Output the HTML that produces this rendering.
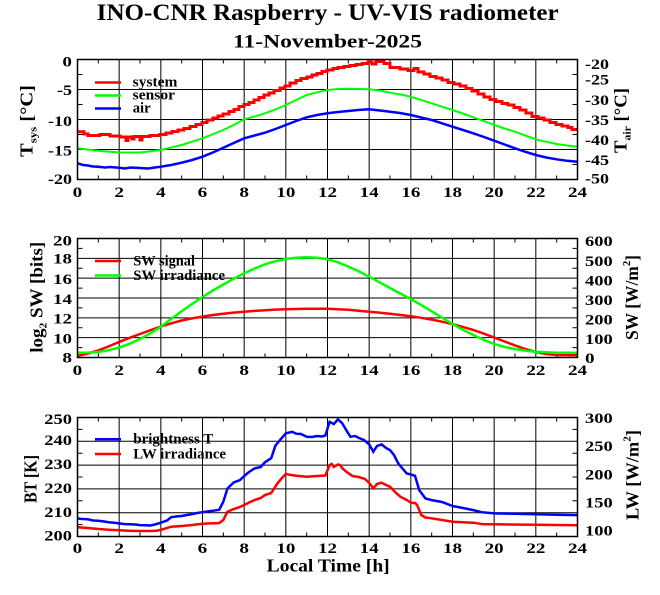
<!DOCTYPE html>
<html><head><meta charset="utf-8"><style>
html,body{margin:0;padding:0;background:#fff;}
svg{display:block;}
text{font-family:"Liberation Serif","DejaVu Serif",serif;font-weight:bold;fill:#000;}
</style></head><body>
<svg width="660" height="595" viewBox="0 0 660 595" xmlns="http://www.w3.org/2000/svg">
<rect width="660" height="595" fill="#fff"/>

<!-- Titles -->
<text x="96.7" y="20" font-size="23" textLength="462" lengthAdjust="spacingAndGlyphs">INO-CNR Raspberry - UV-VIS radiometer</text>
<text x="233" y="47.7" font-size="19" textLength="189" lengthAdjust="spacingAndGlyphs">11-November-2025</text>

<!-- ================= PLOT 1 ================= -->
<g stroke="#000" stroke-width="1" fill="none">
  <path d="M119.17,59.5V179.5M160.83,59.5V179.5M202.5,59.5V179.5M244.17,59.5V179.5M285.83,59.5V179.5M327.5,59.5V179.5M369.17,59.5V179.5M410.83,59.5V179.5M452.5,59.5V179.5M494.17,59.5V179.5M535.83,59.5V179.5"/>
  <path d="M77.5,89.5H577.5M77.5,119.5H577.5M77.5,149.5H577.5"/>
  <path d="M98.33,59.5v4M140,59.5v4M181.67,59.5v4M223.33,59.5v4M265,59.5v4M306.67,59.5v4M348.33,59.5v4M390,59.5v4M431.67,59.5v4M473.33,59.5v4M515,59.5v4M556.67,59.5v4
           M98.33,179.5v-4M140,179.5v-4M181.67,179.5v-4M223.33,179.5v-4M265,179.5v-4M306.67,179.5v-4M348.33,179.5v-4M390,179.5v-4M431.67,179.5v-4M473.33,179.5v-4M515,179.5v-4M556.67,179.5v-4"/>
  <path d="M77.5,74.5h5M77.5,104.5h5M77.5,134.5h5M77.5,164.5h5M577.5,74.5h-5M577.5,104.5h-5M577.5,134.5h-5M577.5,164.5h-5"/>
</g>
<!-- curves plot 1 -->
<path fill="none" stroke="#ff0000" stroke-width="3" d="M77.5,131.7 H84 V134 H88 V135.5 H100 V134.5 H110 V136 H120 V137 H126 V140.5 H128 V137 H132 V139 H134 V136.5 H140 V140 H142 V136.5 H150 V135.5 H160 V134.5 H166 V133 H172 V131.5 H178 V130 H184 V128.5 H190 V126.5 H196 V124.5 H202 V122.5 H207 V120 H213 V118 H218 V116 H223 V114 H229 V111.5 H234 V109.5 H239 V106.5 H244 V104.5 H249 V102.5 H254 V100 H259 V97.5 H264 V95 H269 V93 H274 V90.5 H280 V88 H285 V86 H290 V83 H296 V80.5 H301 V78.5 H307 V77 H312 V75 H317 V73.5 H322 V71.5 H327 V70 H333 V68.5 H338 V67.5 H344 V66.5 H350 V65.5 H356 V64.5 H362 V63.5 H368 V62 H372 V64 H376 V61.5 H384 V63.5 H390 V67.5 H400 V69 H408 V70.5 H414 V68.5 H418 V72 H424 V74 H430 V76.5 H436 V78 H442 V80 H448 V82.5 H454 V84 H460 V86 H466 V88.5 H472 V91 H478 V94 H484 V97 H490 V99.5 H496 V101.5 H502 V103.5 H508 V105 H514 V107.5 H520 V110 H526 V113 H532 V116.5 H538 V118 H544 V120 H550 V122.5 H556 V124.5 H562 V126 H568 V127.5 H572 V129.5 H577.5"/>
<polyline fill="none" stroke="#00ff00" stroke-width="2" points="77.5,148.3 98.3,150.7 119.2,152.5 140,152.5 160.8,150 181.7,145 202.5,138.3 223.3,130 233.7,125 244.2,119.3 254.6,116.5 265,113.3 275.4,109.5 285.8,105 296.2,100 306.7,95 317.1,92.3 327.5,90 337.9,89 348.3,88.7 358.7,89 369.2,89.3 379.6,90.5 390,92.7 400.4,94.5 410.8,96.7 421.2,100 431.7,103.3 442.1,106.7 452.5,110 462.9,113.5 473.3,117.3 483.7,121 494.2,125 504.6,128.5 515,131.7 525.4,135.5 535.8,139.3 546.2,141.8 556.7,144 567.1,145.5 577.5,146.7"/>
<polyline fill="none" stroke="#0000ff" stroke-width="2.5" points="77.5,163.3 83,165 87.9,165.5 93,166.5 98.3,166.7 105,167.5 110,167 119.2,167.7 125,168.5 130,167.5 140,168 148,168.5 155,167.5 160.8,166.7 171.2,165 181.7,162.7 192.1,160 202.5,156.7 212.9,152.5 223.3,147.7 233.7,143 244.2,138.3 254.6,135.5 265,132.7 275.4,129 285.8,125 296.2,121 306.7,117.3 317.1,115 327.5,113.3 338,112 348.3,111 358,110 369.2,109.3 379.6,110.5 390,111.7 400,113 410.8,115 421,117.5 431.7,120 442,123.3 452.5,126.7 463,130 473.3,133.3 484,137 494.2,140.7 504.6,144.5 515,148.3 525.4,151.8 535.8,155 546.2,157.5 556.7,159.3 567,160.8 577.5,161.7"/>
<rect x="77.5" y="59.5" width="500" height="120" fill="none" stroke="#000" stroke-width="1.5"/>
<!-- legend 1 -->
<g stroke-width="2.5">
  <line x1="95" y1="82.5" x2="121" y2="82.5" stroke="#ff0000"/>
  <line x1="95" y1="95.5" x2="121" y2="95.5" stroke="#00ff00"/>
  <line x1="95" y1="108.5" x2="121" y2="108.5" stroke="#0000ff"/>
</g>
<g font-size="15">
  <text x="132.7" y="86.7" textLength="44.7" lengthAdjust="spacingAndGlyphs">system</text>
  <text x="132.7" y="99.5" textLength="42.3" lengthAdjust="spacingAndGlyphs">sensor</text>
  <text x="132.7" y="112.3" textLength="18" lengthAdjust="spacingAndGlyphs">air</text>
</g>
<!-- y ticks left plot 1 -->
<g font-size="15" text-anchor="end">
  <text x="72" y="66.7" textLength="9.6" lengthAdjust="spacingAndGlyphs">0</text>
  <text x="72" y="95" textLength="15" lengthAdjust="spacingAndGlyphs">-5</text>
  <text x="72" y="125.8" textLength="24" lengthAdjust="spacingAndGlyphs">-10</text>
  <text x="72" y="155.5" textLength="24" lengthAdjust="spacingAndGlyphs">-15</text>
  <text x="72" y="184" textLength="24" lengthAdjust="spacingAndGlyphs">-20</text>
</g>
<g font-size="15">
  <text x="585" y="68.8" textLength="24" lengthAdjust="spacingAndGlyphs">-20</text>
  <text x="585" y="84.5" textLength="24" lengthAdjust="spacingAndGlyphs">-25</text>
  <text x="585" y="105" textLength="24" lengthAdjust="spacingAndGlyphs">-30</text>
  <text x="585" y="125" textLength="24" lengthAdjust="spacingAndGlyphs">-35</text>
  <text x="585" y="145" textLength="24" lengthAdjust="spacingAndGlyphs">-40</text>
  <text x="585" y="165" textLength="24" lengthAdjust="spacingAndGlyphs">-45</text>
  <text x="585" y="183.7" textLength="24" lengthAdjust="spacingAndGlyphs">-50</text>
</g>
<g font-size="15" text-anchor="middle" lengthAdjust="spacingAndGlyphs">
  <text x="77.5" y="197" textLength="9.6" lengthAdjust="spacingAndGlyphs">0</text><text x="119.17" y="197" textLength="9.6" lengthAdjust="spacingAndGlyphs">2</text><text x="160.83" y="197" textLength="9.6" lengthAdjust="spacingAndGlyphs">4</text><text x="202.5" y="197" textLength="9.6" lengthAdjust="spacingAndGlyphs">6</text><text x="244.17" y="197" textLength="9.6" lengthAdjust="spacingAndGlyphs">8</text>
  <text x="285.83" y="197" textLength="19" lengthAdjust="spacingAndGlyphs">10</text><text x="327.5" y="197" textLength="19" lengthAdjust="spacingAndGlyphs">12</text><text x="369.17" y="197" textLength="19" lengthAdjust="spacingAndGlyphs">14</text><text x="410.83" y="197" textLength="19" lengthAdjust="spacingAndGlyphs">16</text><text x="452.5" y="197" textLength="19" lengthAdjust="spacingAndGlyphs">18</text><text x="494.17" y="197" textLength="19" lengthAdjust="spacingAndGlyphs">20</text><text x="535.83" y="197" textLength="19" lengthAdjust="spacingAndGlyphs">22</text><text x="577.5" y="197" textLength="19" lengthAdjust="spacingAndGlyphs">24</text>
</g>
<text transform="translate(32.3,121) rotate(-90)" text-anchor="middle" font-size="17.5" textLength="72" lengthAdjust="spacingAndGlyphs">T<tspan font-size="11" dy="4">sys</tspan><tspan dy="-4"> [°C]</tspan></text>
<text transform="translate(626.7,120.5) rotate(-90)" text-anchor="middle" font-size="17.5" textLength="65" lengthAdjust="spacingAndGlyphs">T<tspan font-size="11" dy="4">air</tspan><tspan dy="-4"> [°C]</tspan></text>

<!-- ================= PLOT 2 ================= -->
<g stroke="#000" stroke-width="1" fill="none">
  <path d="M119.17,238.5V357.5M160.83,238.5V357.5M202.5,238.5V357.5M244.17,238.5V357.5M285.83,238.5V357.5M327.5,238.5V357.5M369.17,238.5V357.5M410.83,238.5V357.5M452.5,238.5V357.5M494.17,238.5V357.5M535.83,238.5V357.5"/>
  <path d="M77.5,337.67H577.5M77.5,317.83H577.5M77.5,298H577.5M77.5,278.17H577.5M77.5,258.33H577.5"/>
  <path d="M98.33,238.5v4M140,238.5v4M181.67,238.5v4M223.33,238.5v4M265,238.5v4M306.67,238.5v4M348.33,238.5v4M390,238.5v4M431.67,238.5v4M473.33,238.5v4M515,238.5v4M556.67,238.5v4
           M98.33,357.5v-4M140,357.5v-4M181.67,357.5v-4M223.33,357.5v-4M265,357.5v-4M306.67,357.5v-4M348.33,357.5v-4M390,357.5v-4M431.67,357.5v-4M473.33,357.5v-4M515,357.5v-4M556.67,357.5v-4"/>
  <path d="M77.5,347.58h5M77.5,327.75h5M77.5,307.92h5M77.5,288.08h5M77.5,268.25h5M77.5,248.42h5
           M577.5,347.58h-5M577.5,327.75h-5M577.5,307.92h-5M577.5,288.08h-5M577.5,268.25h-5M577.5,248.42h-5"/>
</g>
<polyline fill="none" stroke="#ff0000" stroke-width="2.5" points="77.5,355.8 88,353.5 98.3,350.4 108.7,346.4 119.2,341.9 129.6,337.8 140,334 150.4,330.2 160.8,326.6 171.2,323.3 181.7,320.5 192.1,318.4 202.5,316.6 212.9,315 223.3,313.7 233.7,312.6 244.2,311.7 254.6,310.9 265,310.2 275.4,309.6 285.8,309.2 306.7,308.7 327.5,308.7 348.3,309.7 369.2,311.7 390,313.7 410.8,316.2 421.2,317.8 431.7,319.6 442.1,321.7 452.5,324.1 462.9,326.9 473.3,330 483.7,333.6 494.2,337.5 504.6,341.5 515,345.4 525.4,349 535.8,352 546.2,354 556.7,355 577.5,355.2"/>
<polyline fill="none" stroke="#00ff00" stroke-width="2.5" points="77.5,352.7 88,352.6 98.3,352 108.7,350.2 119.2,347.5 129.6,343.8 140,339 150.4,333.3 160.8,326.7 171.2,319 181.7,311.3 192.1,304 202.5,297 212.9,290.5 223.3,284.5 233.7,278.7 244.2,273.3 254.6,268.5 265,264.3 275.4,261.2 285.8,259 296.2,257.8 306.7,257.3 317.1,257.8 327.5,259.2 337.9,262.3 348.3,266.5 358.7,271.3 369.2,276.7 379.6,282.3 390,288 400.4,293.5 410.8,299 421.2,305 431.7,311.3 442.1,317.7 452.5,324 462.9,329.7 473.3,335 483.7,339.8 494.2,344 504.6,347 515,349 525.4,350.6 535.8,351.7 556.7,352.7 577.5,352.7"/>
<rect x="77.5" y="238.5" width="500" height="119" fill="none" stroke="#000" stroke-width="1.5"/>
<g stroke-width="2.5">
  <line x1="95" y1="261" x2="121" y2="261" stroke="#ff0000"/>
  <line x1="95" y1="275.5" x2="121" y2="275.5" stroke="#00ff00"/>
</g>
<g font-size="15">
  <text x="133.3" y="265.5" textLength="61.7" lengthAdjust="spacingAndGlyphs">SW signal</text>
  <text x="133.3" y="280" textLength="91.7" lengthAdjust="spacingAndGlyphs">SW irradiance</text>
</g>
<g font-size="15" text-anchor="end">
  <text x="72" y="245.5" textLength="19" lengthAdjust="spacingAndGlyphs">20</text>
  <text x="72" y="263.7" textLength="19" lengthAdjust="spacingAndGlyphs">18</text>
  <text x="72" y="284.2" textLength="19" lengthAdjust="spacingAndGlyphs">16</text>
  <text x="72" y="304" textLength="19" lengthAdjust="spacingAndGlyphs">14</text>
  <text x="72" y="323.3" textLength="19" lengthAdjust="spacingAndGlyphs">12</text>
  <text x="72" y="343.3" textLength="19" lengthAdjust="spacingAndGlyphs">10</text>
  <text x="72" y="362.7" textLength="9.6" lengthAdjust="spacingAndGlyphs">8</text>
</g>
<g font-size="15">
  <text x="585" y="245.8" textLength="27.7" lengthAdjust="spacingAndGlyphs">600</text>
  <text x="585" y="265.8" textLength="27.7" lengthAdjust="spacingAndGlyphs">500</text>
  <text x="585" y="285.5" textLength="27.7" lengthAdjust="spacingAndGlyphs">400</text>
  <text x="585" y="304.8" textLength="27.7" lengthAdjust="spacingAndGlyphs">300</text>
  <text x="585" y="324.5" textLength="27.7" lengthAdjust="spacingAndGlyphs">200</text>
  <text x="585" y="344.2" textLength="27.7" lengthAdjust="spacingAndGlyphs">100</text>
  <text x="585" y="363" textLength="9.6" lengthAdjust="spacingAndGlyphs">0</text>
</g>
<g font-size="15" text-anchor="middle">
  <text x="77.5" y="375" textLength="9.6" lengthAdjust="spacingAndGlyphs">0</text><text x="119.17" y="375" textLength="9.6" lengthAdjust="spacingAndGlyphs">2</text><text x="160.83" y="375" textLength="9.6" lengthAdjust="spacingAndGlyphs">4</text><text x="202.5" y="375" textLength="9.6" lengthAdjust="spacingAndGlyphs">6</text><text x="244.17" y="375" textLength="9.6" lengthAdjust="spacingAndGlyphs">8</text>
  <text x="285.83" y="375" textLength="19" lengthAdjust="spacingAndGlyphs">10</text><text x="327.5" y="375" textLength="19" lengthAdjust="spacingAndGlyphs">12</text><text x="369.17" y="375" textLength="19" lengthAdjust="spacingAndGlyphs">14</text><text x="410.83" y="375" textLength="19" lengthAdjust="spacingAndGlyphs">16</text><text x="452.5" y="375" textLength="19" lengthAdjust="spacingAndGlyphs">18</text><text x="494.17" y="375" textLength="19" lengthAdjust="spacingAndGlyphs">20</text><text x="535.83" y="375" textLength="19" lengthAdjust="spacingAndGlyphs">22</text><text x="577.5" y="375" textLength="19" lengthAdjust="spacingAndGlyphs">24</text>
</g>
<text transform="translate(42.7,297.3) rotate(-90)" text-anchor="middle" font-size="18" textLength="111" lengthAdjust="spacingAndGlyphs">log<tspan font-size="11" dy="4">2</tspan><tspan dy="-4"> SW [bits]</tspan></text>
<text transform="translate(638,297.5) rotate(-90)" text-anchor="middle" font-size="18" textLength="85" lengthAdjust="spacingAndGlyphs">SW [W/m<tspan font-size="11" dy="-8">2</tspan><tspan dy="8">]</tspan></text>

<!-- ================= PLOT 3 ================= -->
<g stroke="#000" stroke-width="1" fill="none">
  <path d="M119.17,417.5V536.5M160.83,417.5V536.5M202.5,417.5V536.5M244.17,417.5V536.5M285.83,417.5V536.5M327.5,417.5V536.5M369.17,417.5V536.5M410.83,417.5V536.5M452.5,417.5V536.5M494.17,417.5V536.5M535.83,417.5V536.5"/>
  <path d="M77.5,512.7H577.5M77.5,488.9H577.5M77.5,465.1H577.5M77.5,441.3H577.5"/>
  <path d="M98.33,417.5v4M140,417.5v4M181.67,417.5v4M223.33,417.5v4M265,417.5v4M306.67,417.5v4M348.33,417.5v4M390,417.5v4M431.67,417.5v4M473.33,417.5v4M515,417.5v4M556.67,417.5v4
           M98.33,536.5v-4M140,536.5v-4M181.67,536.5v-4M223.33,536.5v-4M265,536.5v-4M306.67,536.5v-4M348.33,536.5v-4M390,536.5v-4M431.67,536.5v-4M473.33,536.5v-4M515,536.5v-4M556.67,536.5v-4"/>
  <path d="M77.5,524.6h5M77.5,500.8h5M77.5,477h5M77.5,453.2h5M77.5,429.4h5
           M577.5,524.6h-5M577.5,500.8h-5M577.5,477h-5M577.5,453.2h-5M577.5,429.4h-5"/>
</g>
<polyline fill="none" stroke="#0000ff" stroke-width="2.5" points="77.5,518.4 82,519 87.9,519.3 93,520.5 98.3,520.8 104,521.5 108.75,522.2 114,522.8 119.2,523.4 124,524 129.6,524.3 135,524.5 140,525.1 145,525.3 150.4,525.5 155,524.5 160.8,522.7 164,521.5 167.1,520.5 171.25,517.2 176,516.5 181.7,516 187,515 192.1,514.1 197,513 202.5,512.2 207,511.5 212.9,510.8 219.2,509.8 223.3,501.7 227.5,488.4 233.75,482.4 240,480 244.2,476 249,472 254.6,468.4 260.8,467 265,462.2 271.25,458.2 275.4,445.6 280,440 285.8,433.4 292.1,431.8 296.25,433.7 301,434 306.7,436.8 312,437 317.1,436 322,436.5 325.4,435.5 329.6,421.8 333.75,424.1 337.9,419.4 342.1,423 346.25,430.1 350.4,436.8 355,436 358.75,437.9 364,440 369.2,444.4 373.3,451.7 377,446 381.7,444.4 386,448 390,450.1 394,455 398.3,463.4 402,468 406.7,473.4 410.8,474.5 415,475.8 419.2,490.1 425.4,498.4 431.7,500.1 442,502 452.5,506 463,508 473.3,510.1 481.7,512.2 494.2,513.4 515,513.8 535.8,514.3 556.7,514.8 577.5,515.1"/>
<polyline fill="none" stroke="#ff0000" stroke-width="2.5" points="77.5,527.3 87.9,528 98.3,529 108.75,529.8 119.2,530.3 129.6,530.8 140,531 150.4,531 156.7,530.7 162,529.5 171.25,526.7 181.7,526 192.1,525 202.5,523.7 212.9,523.3 219.2,523 223.3,520 227.5,511.7 233.75,509 240,507 244.2,505 249,502.5 254.6,500 260.8,498 265,495 271.25,493 277.5,483.3 282,478 285.8,474 291,475 296.25,475.7 306.7,476.7 317.1,476 325.4,475.5 329.6,465 331.7,464 333.75,467 337.9,464.5 340,465 342.1,468 346.25,471.7 352.5,476 358.75,477 365,479 369.2,483 373.3,488.3 377,484 381.7,482.7 386,485 390,486.7 395,492 400.4,496.7 406.7,500 410.8,502.7 415,503 417.1,505 421.25,515 425.4,517.5 431.7,518.3 442,520 452.5,521.7 473.3,522.7 483.75,524.3 494.2,524.3 535.8,524.8 577.5,525.3"/>
<rect x="77.5" y="417.5" width="500" height="119" fill="none" stroke="#000" stroke-width="1.5"/>
<g stroke-width="2.5">
  <line x1="95" y1="439.3" x2="121" y2="439.3" stroke="#0000ff"/>
  <line x1="95" y1="454" x2="121" y2="454" stroke="#ff0000"/>
</g>
<g font-size="15">
  <text x="133.3" y="443.5" textLength="80" lengthAdjust="spacingAndGlyphs">brightness T</text>
  <text x="133.3" y="458.5" textLength="92.7" lengthAdjust="spacingAndGlyphs">LW irradiance</text>
</g>
<g font-size="15" text-anchor="end">
  <text x="72" y="424.2" textLength="27.7" lengthAdjust="spacingAndGlyphs">250</text>
  <text x="72" y="445.2" textLength="27.7" lengthAdjust="spacingAndGlyphs">240</text>
  <text x="72" y="469.2" textLength="27.7" lengthAdjust="spacingAndGlyphs">230</text>
  <text x="72" y="493.2" textLength="27.7" lengthAdjust="spacingAndGlyphs">220</text>
  <text x="72" y="517.2" textLength="27.7" lengthAdjust="spacingAndGlyphs">210</text>
  <text x="72" y="540.5" textLength="27.7" lengthAdjust="spacingAndGlyphs">200</text>
</g>
<g font-size="15">
  <text x="585" y="422.8" textLength="27.7" lengthAdjust="spacingAndGlyphs">300</text>
  <text x="585" y="451.2" textLength="27.7" lengthAdjust="spacingAndGlyphs">250</text>
  <text x="585" y="479.5" textLength="27.7" lengthAdjust="spacingAndGlyphs">200</text>
  <text x="585" y="507.5" textLength="27.7" lengthAdjust="spacingAndGlyphs">150</text>
  <text x="585" y="535.3" textLength="27.7" lengthAdjust="spacingAndGlyphs">100</text>
</g>
<g font-size="15" text-anchor="middle">
  <text x="77.5" y="553" textLength="9.6" lengthAdjust="spacingAndGlyphs">0</text><text x="119.17" y="553" textLength="9.6" lengthAdjust="spacingAndGlyphs">2</text><text x="160.83" y="553" textLength="9.6" lengthAdjust="spacingAndGlyphs">4</text><text x="202.5" y="553" textLength="9.6" lengthAdjust="spacingAndGlyphs">6</text><text x="244.17" y="553" textLength="9.6" lengthAdjust="spacingAndGlyphs">8</text>
  <text x="285.83" y="553" textLength="19" lengthAdjust="spacingAndGlyphs">10</text><text x="327.5" y="553" textLength="19" lengthAdjust="spacingAndGlyphs">12</text><text x="369.17" y="553" textLength="19" lengthAdjust="spacingAndGlyphs">14</text><text x="410.83" y="553" textLength="19" lengthAdjust="spacingAndGlyphs">16</text><text x="452.5" y="553" textLength="19" lengthAdjust="spacingAndGlyphs">18</text><text x="494.17" y="553" textLength="19" lengthAdjust="spacingAndGlyphs">20</text><text x="535.83" y="553" textLength="19" lengthAdjust="spacingAndGlyphs">22</text><text x="577.5" y="553" textLength="19" lengthAdjust="spacingAndGlyphs">24</text>
</g>
<text transform="translate(36.7,479) rotate(-90)" text-anchor="middle" font-size="17.5" textLength="48" lengthAdjust="spacingAndGlyphs">BT [K]</text>
<text transform="translate(638.3,475) rotate(-90)" text-anchor="middle" font-size="18" textLength="90" lengthAdjust="spacingAndGlyphs">LW [W/m<tspan font-size="11" dy="-8">2</tspan><tspan dy="8">]</tspan></text>
<text x="266.7" y="571.7" font-size="17.5" textLength="123" lengthAdjust="spacingAndGlyphs">Local Time [h]</text>
</svg>
</body></html>
